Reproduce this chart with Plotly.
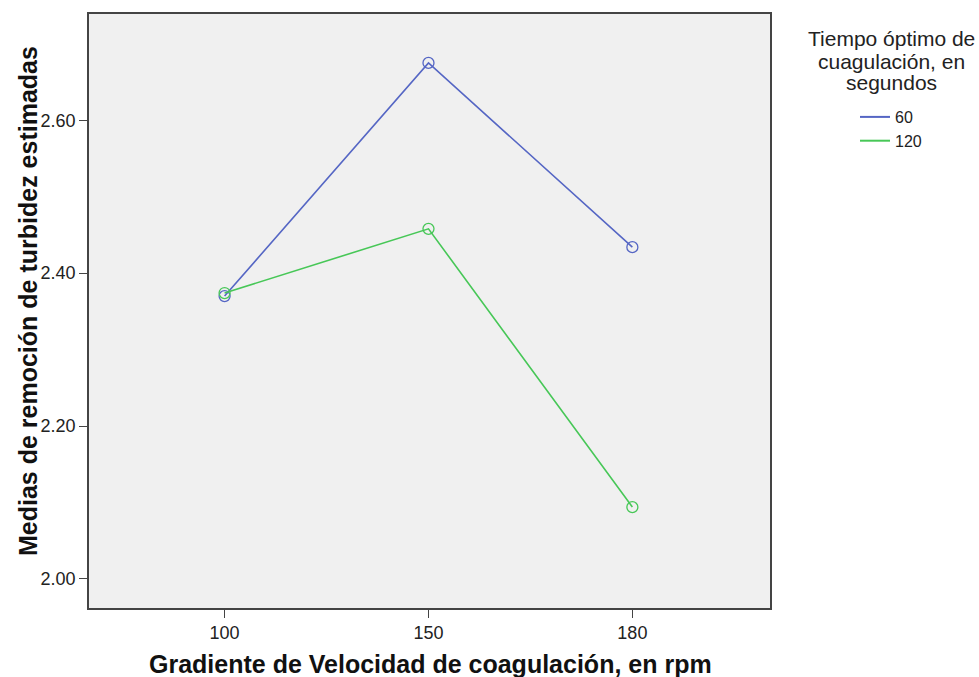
import plotly.graph_objects as go

categories = ["100", "150", "180"]
series_names = ["60", "120"]
values_60 = [2.370, 2.675, 2.434]
values_120 = [2.374, 2.458, 2.094]
y_ticks = [2.00, 2.20, 2.40, 2.60]
legend_title_lines = ["Tiempo óptimo de", "cuagulación, en", "segundos"]
colors = ["#5566c4", "#47c757"]

fig = go.Figure()
for name, vals, col in zip(series_names, [values_60, values_120], colors):
    fig.add_trace(go.Scatter(
        x=categories, y=vals, name=name, mode="lines+markers", showlegend=False,
        line=dict(color=col, width=1.6),
        marker=dict(symbol="circle-open", size=11, color=col, line=dict(width=1.3)),
    ))
    # legend-only entry (line without marker, as in the reference)
    fig.add_trace(go.Scatter(
        x=[None], y=[None], name=name, mode="lines",
        line=dict(color=col, width=2), showlegend=True,
    ))

W, H = 979, 677
L, R, T, B = 89, 209, 14, 69
pw = W - L - R
ph = H - T - B

def px_x(x):
    return (x - L) / pw

def px_y(y):
    return 1 - (y - T) / ph

annotations = []
for i, line in enumerate(legend_title_lines):
    annotations.append(dict(
        text=line, xref="paper", yref="paper", x=px_x(891), y=px_y(39 + 22 * i),
        xanchor="center", yanchor="middle", showarrow=False,
        font=dict(size=21, color="#222")))
annotations.append(dict(
    text="<b>Gradiente de Velocidad de coagulación, en rpm</b>",
    xref="paper", yref="paper", x=px_x(430), y=px_y(664),
    xanchor="center", yanchor="middle", showarrow=False,
    font=dict(size=25, color="#111")))
annotations.append(dict(
    text="<b>Medias de remoción de turbidez estimadas</b>",
    xref="paper", yref="paper", x=px_x(28), y=px_y(301), textangle=-90,
    xanchor="center", yanchor="middle", showarrow=False,
    font=dict(size=25, color="#111")))

fig.update_layout(
    width=W, height=H,
    margin=dict(l=L, r=R, t=T, b=B),
    paper_bgcolor="white", plot_bgcolor="#f0f0f0",
    font=dict(family="Liberation Sans, Arial, sans-serif", color="#222"),
    showlegend=True,
    legend=dict(x=px_x(855), y=px_y(100), xanchor="left", yanchor="top",
                font=dict(size=16, color="#222"),
                tracegroupgap=0, bgcolor="rgba(0,0,0,0)"),
    annotations=annotations,
)
fig.update_xaxes(
    type="category", range=[-0.665, 2.675], automargin=False,
    showline=True, linecolor="#444", linewidth=1.5, mirror=True,
    ticks="outside", ticklen=8, tickcolor="#444", tickfont=dict(size=18, color="#222"),
    showgrid=False, zeroline=False,
)
fig.update_yaxes(
    range=[1.962, 2.739], tickvals=y_ticks, tickformat=".2f", automargin=False,
    showline=True, linecolor="#444", linewidth=1.5, mirror=True,
    ticks="outside", ticklen=8, tickcolor="#444", tickfont=dict(size=18, color="#222"),
    showgrid=False, zeroline=False,
)
fig.write_html("out.html", config={"displayModeBar": False},
               post_script="document.body.style.margin='0';")
